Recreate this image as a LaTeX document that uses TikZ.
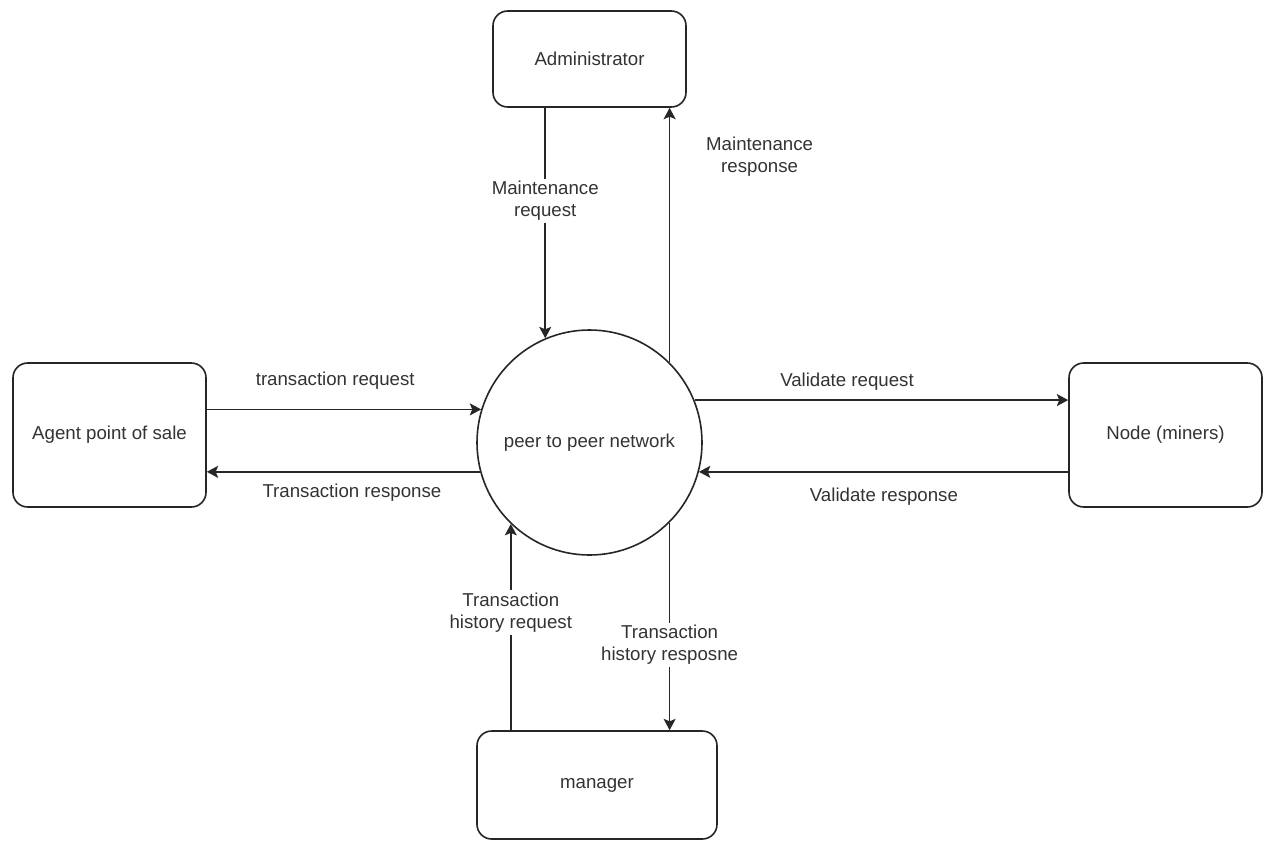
\documentclass[tikz,border=0pt]{standalone}
\usepackage{fontspec}
\setmainfont{Liberation Sans}
\usetikzlibrary{arrows.meta}
\begin{document}
\begin{tikzpicture}[x=0.75pt,y=-0.75pt,
  every node/.style={font=\fontsize{14pt}{16.5pt}\selectfont, text=black!80},
  entity/.style={draw=black!85, line width=1.2pt, rounded corners=11pt, fill=white, inner sep=0pt},
  process/.style={draw=black!85, line width=1.2pt, circle, minimum size=168.75pt, inner sep=0pt},
  flow/.style={draw=black!85, line width=1.2pt, -{Stealth[length=8.5pt,width=9pt,inset=1.8pt]}},
  lbl/.style={fill=white, align=center, inner sep=2pt},
  side/.style={align=center, inner sep=1pt}]
\useasboundingbox (0,0) rectangle (1267,840);

% external entities and the central process
\node[entity, minimum width=144.75pt, minimum height=72pt] (admin) at (589.5,59) {Administrator};
\node[entity, minimum width=144.75pt, minimum height=108pt] (agent) at (109.5,435) {Agent point of sale};
\node[entity, minimum width=144.75pt, minimum height=108pt] (miner) at (1165.5,435) {Node (miners)};
\node[entity, minimum width=180pt, minimum height=81pt] (manager) at (597,785) {manager};
\node[process] (p2p) at (589.5,442.5) {peer to peer network};

% maintenance flows
\draw[flow] (admin.south -| p2p.113) -- node[lbl, pos=0.405] {Maintenance\\request} (p2p.113);
\draw[flow] (p2p.45) -- node[side, pos=0.81, xshift=67.5pt] {Maintenance\\response} (p2p.45 |- admin.south);

% transaction flows
\draw[flow] (agent.east |- p2p.163) -- node[side, pos=0.468, yshift=21.75pt] {transaction request} (p2p.163);
\draw[flow] (p2p.195) -- node[side, pos=0.469, yshift=-15.75pt] {Transaction response} (agent.east |- p2p.195);

% validation flows
\draw[flow] (p2p.22) -- node[side, pos=0.408, yshift=13.5pt] {Validate request} (miner.west |- p2p.22);
\draw[flow] (miner.west |- p2p.345) -- node[side, pos=0.499, yshift=-18.75pt] {Validate response} (p2p.345);

% history flows
\draw[flow] (manager.north -| p2p.226) -- node[lbl, pos=0.572] {Transaction\\history request} (p2p.226);
\draw[flow] (p2p.315) -- node[lbl, pos=0.59] {Transaction\\history resposne} (manager.north -| p2p.315);
\end{tikzpicture}
\end{document}
